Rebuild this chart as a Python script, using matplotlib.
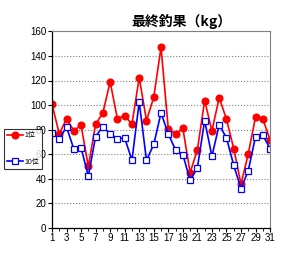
import matplotlib
matplotlib.use("Agg")
import matplotlib.pyplot as plt
from matplotlib.ticker import MultipleLocator

plt.rcParams['font.family'] = ['Liberation Sans', 'Noto Sans CJK JP', 'DejaVu Sans']

days = list(range(1, 32))
first = [101, 76.5, 88.8, 79.2, 83.6, 50, 84.4, 93.6, 119, 88.8, 91.5, 84.4, 122.4, 87.4, 106.4, 147,
         80.6, 76.5, 81.2, 45, 63.5, 103.7, 79, 106, 88.5, 64.6, 35.6, 60.3, 90.4, 88.8, 71.7]
tenth = [77, 72.5, 82.2, 64.3, 65.4, 42, 74.4, 82.5, 76.5, 72.7, 73.3, 55, 102.6, 55, 68, 93.6,
         76.5, 63.5, 59.7, 38.8, 48.9, 87.4, 58.4, 83.9, 73.3, 51, 32, 46.7, 74.4, 75.5, 64.6]
labels = ["1位", "10位"]

fig = plt.figure(figsize=(2.84, 2.80), dpi=100)
ax = fig.add_axes([0.183, 0.186, 0.768, 0.702])

ax.plot(days, first, color="red", lw=1.2, marker="o", ms=4.8, mfc="red", mec="red", label=labels[0])
ax.plot(days, tenth, color="blue", lw=1.2, marker="s", ms=4.8, mfc="white", mec="blue", mew=0.9,
        label=labels[1])

ax.set_xlim(1, 31)
ax.set_ylim(0, 160)
ax.set_xticks(range(1, 32, 2))
ax.xaxis.set_minor_locator(MultipleLocator(1))
ax.yaxis.set_major_locator(MultipleLocator(20))
ax.tick_params(axis="both", labelsize=7, length=3, width=0.8, pad=1)
ax.tick_params(axis="x", which="minor", length=2)
ax.grid(axis="y", color="gray", ls=":", lw=0.8)
for s in ["top", "right"]:
    ax.spines[s].set_color("gray")
for s in ["left", "bottom"]:
    ax.spines[s].set_linewidth(0.9)

leg = fig.legend(loc="upper left", bbox_to_anchor=(0.014, 0.54), fontsize=5, frameon=True,
                 fancybox=False, edgecolor="black", borderpad=0.5, handlelength=2.3,
                 labelspacing=2.8, handletextpad=0.1, borderaxespad=0)
leg.get_frame().set_linewidth(0.8)

fig.text(0.64, 0.925, "最終釣果（kg）", ha="center", va="center", fontsize=10, fontweight="bold",
         family=['Noto Sans CJK JP', 'DejaVu Sans'])

fig.savefig("out.png", dpi=100)
